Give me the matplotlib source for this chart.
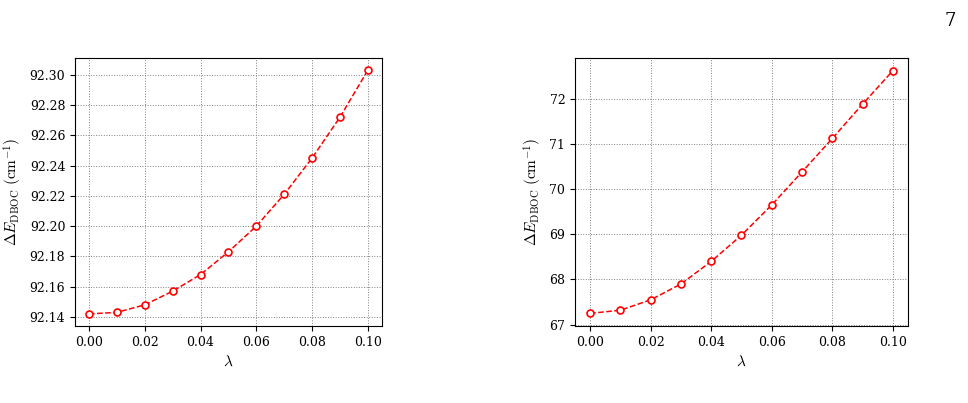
import matplotlib
matplotlib.use("Agg")
import matplotlib.pyplot as plt

plt.rcParams['font.family'] = 'serif'
plt.rcParams['font.serif'] = ['DejaVu Serif']
plt.rcParams['mathtext.fontset'] = 'cm'

lam = [0.00, 0.01, 0.02, 0.03, 0.04, 0.05, 0.06, 0.07, 0.08, 0.09, 0.10]
left_vals = [92.142, 92.143, 92.148, 92.157, 92.168, 92.183, 92.200, 92.221, 92.245, 92.272, 92.303]
right_vals = [67.25, 67.32, 67.55, 67.90, 68.40, 68.98, 69.65, 70.38, 71.12, 71.88, 72.62]
left_ticks = [92.14, 92.16, 92.18, 92.20, 92.22, 92.24, 92.26, 92.28, 92.30]
right_ticks = [67, 68, 69, 70, 71, 72]
xticks = [0.00, 0.02, 0.04, 0.06, 0.08, 0.10]

fig = plt.figure(figsize=(9.68, 4.03), dpi=100)
ax1 = fig.add_axes([0.0775, 0.191, 0.317, 0.665])
ax2 = fig.add_axes([0.594, 0.191, 0.344, 0.665])

for ax, vals, yt, fmt in [(ax1, left_vals, left_ticks, '{:.2f}'), (ax2, right_vals, right_ticks, '{:d}')]:
    ax.plot(lam, vals, '--o', color='red', lw=1.1, ms=5, mfc='white', mec='red', mew=1.2)
    ax.set_xticks(xticks)
    ax.set_xticklabels(['{:.2f}'.format(t) for t in xticks], fontsize=9)
    ax.set_yticks(yt)
    ax.set_yticklabels([fmt.format(t) for t in yt], fontsize=9)
    ax.grid(True, ls=':', color='gray', lw=0.7)
    ax.set_xlabel(r'$\lambda$', fontsize=11)
    ax.set_ylabel(r'$\Delta E_{\mathrm{DBOC}}\ (\mathrm{cm}^{-1})$', fontsize=11)
    ax.set_xlim(-0.005, 0.105)

ax1.set_ylim(92.134, 92.311)
ax2.set_ylim(66.97, 72.9)

fig.text(0.987, 0.97, '7', ha='right', va='top', fontsize=13)
fig.savefig('out.png', dpi=100)
